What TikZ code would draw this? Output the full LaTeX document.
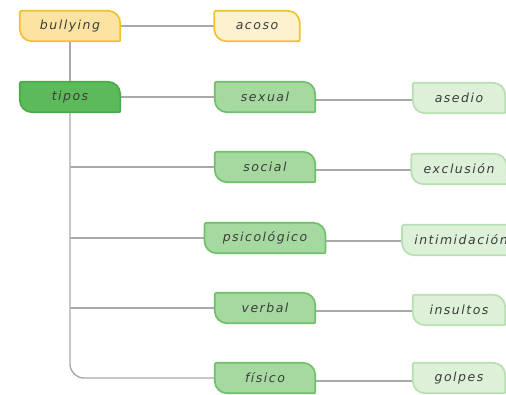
\documentclass[tikz,border=0pt]{standalone}
\usepackage{fontspec}
\newfontfamily\mapfont[LetterSpace=12]{DejaVu Sans}
\usetikzlibrary{backgrounds}

\definecolor{lineGray}{HTML}{A9A9A9}
\definecolor{textGray}{HTML}{3C3C3C}
\definecolor{goldLine}{HTML}{F2C12E}
\definecolor{goldFill}{HTML}{FCE3A2}
\definecolor{paleGold}{HTML}{FDF1CF}
\definecolor{darkGreen}{HTML}{4EA84B}
\definecolor{midGreen}{HTML}{5DBA5A}
\definecolor{typeLine}{HTML}{6FC069}
\definecolor{typeFill}{HTML}{A6D9A0}
\definecolor{leafLine}{HTML}{B8DFB2}
\definecolor{leafFill}{HTML}{DDF0D8}

% leaf-like outline behind a node: big round top right and bottom left
\newcommand\leafshape[2]{%
  \path[#1] ([xshift=4pt]#2.north west) -- ([xshift=-12pt]#2.north east)
    .. controls ([xshift=-5.4pt]#2.north east) and ([yshift=-5.4pt]#2.north east) .. ([yshift=-12pt]#2.north east)
    -- ([yshift=2pt]#2.south east) .. controls (#2.south east) .. ([xshift=-2pt]#2.south east)
    -- ([xshift=12pt]#2.south west)
    .. controls ([xshift=5.4pt]#2.south west) and ([yshift=5.4pt]#2.south west) .. ([yshift=12pt]#2.south west)
    -- ([yshift=-4pt]#2.north west) .. controls (#2.north west) .. ([xshift=4pt]#2.north west) -- cycle;}

\tikzset{
  mapbox/.style={font=\mapfont\itshape\fontsize{12.5}{14}\selectfont, text=textGray,
    minimum height=30pt, minimum width=100pt, inner xsep=18pt},
  leafbox/.style={mapbox, minimum width=92pt, inner xsep=12pt},
  connector/.style={draw=lineGray, line width=1.4pt},
  outline/.style={line width=1.7pt, line join=round}
}

\begin{document}
\begin{tikzpicture}[x=1pt,y=-1pt]
\path[use as bounding box] (0,0) rectangle (506,394);
\clip (0,0) rectangle (506,394);

% root and types
\node[mapbox] (bullying) at (70,26) {bullying};
\node[mapbox, minimum width=85pt] (acoso) at (257,26) {acoso};
\node[mapbox] (tipos) at (70,97) {tipos};
\node[mapbox] (sexual) at (265,97) {sexual};
\node[mapbox] (social) at (265,167) {social};
\node[mapbox] (psico) at (265,238) {psicológico};
\node[mapbox] (verbal) at (265,308) {verbal};
\node[mapbox] (fisico) at (265,378) {físico};

% leaves
\node[leafbox] (asedio) at (459,98) {asedio};
\node[leafbox] (exclusion) at (459,169) {exclusión};
\node[leafbox] (intimidacion) at (461,240) {intimidación};
\node[leafbox] (insultos) at (459,310) {insultos};
\node[leafbox] (golpes) at (459,378) {golpes};

\begin{scope}[on background layer]
\fill[white] (0,0) rectangle (506,394);
\draw[connector] (bullying) -- (acoso);
\draw[connector] (bullying) -- (tipos);
\draw[connector] (tipos) -- (sexual);
\draw[connector, rounded corners=14pt] (tipos.south) |- (fisico.west);
\foreach \t in {social,psico,verbal}
  \draw[connector] (tipos.south |- \t.west) -- (\t.west);
\foreach \t/\l in {sexual/asedio,social/exclusion,psico/intimidacion,verbal/insultos,fisico/golpes}
  \draw[connector] ([yshift=-3pt]\t.east) -- ([yshift=-3pt]\t.east -| \l.west);

\leafshape{outline, fill=goldFill, draw=goldLine}{bullying}
\leafshape{outline, fill=paleGold, draw=goldLine}{acoso}
\leafshape{outline, fill=midGreen, draw=darkGreen}{tipos}
\foreach \t in {sexual,social,psico,verbal,fisico}
  {\leafshape{outline, fill=typeFill, draw=typeLine}{\t}}
\foreach \l in {asedio,exclusion,intimidacion,insultos,golpes}
  {\leafshape{outline, fill=leafFill, draw=leafLine}{\l}}
\end{scope}
\end{tikzpicture}
\end{document}
